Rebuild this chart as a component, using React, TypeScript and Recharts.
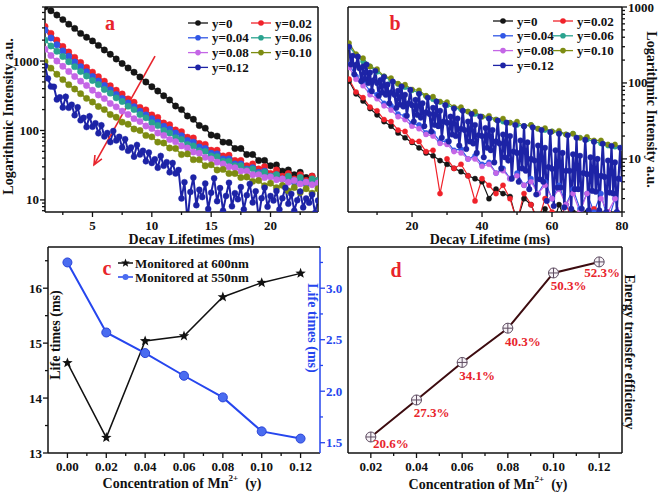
import React from "react";
import { LineChart, Line, XAxis, YAxis, Legend, ReferenceLine, LabelList } from "recharts";

const FONT = '"Liberation Serif", "Times New Roman", serif';
const INK = "#111";
const RED = "#e8242c";
const BLUE = "#2646ee";

// series names used by panels a and b
const yLabels = ["y=0", "y=0.02", "y=0.04", "y=0.06", "y=0.08", "y=0.10", "y=0.12"];
const yColors = ["#151515", "#f0222a", "#3157e6", "#2aa38f", "#c466e6", "#7d8c12", "#1d23a6"];

// (a) decay curves, time in ms, intensity a.u.
const aTime = [1, 1.5, 2, 2.5, 3, 3.5, 4, 4.5, 5, 5.5, 6, 6.5, 7, 7.5, 8, 8.5, 9, 9.5, 10, 10.5, 11, 11.5, 12, 12.5, 13, 13.5, 14, 14.5, 15, 15.5, 16, 16.5, 17, 17.5, 18, 18.5, 19, 19.5, 20, 20.5, 21, 21.5, 22, 22.5, 23, 23.5, 24];
const aTimeFine = [1, 1.25, 1.5, 1.75, 2, 2.25, 2.5, 2.75, 3, 3.25, 3.5, 3.75, 4, 4.25, 4.5, 4.75, 5, 5.25, 5.5, 5.75, 6, 6.25, 6.5, 6.75, 7, 7.25, 7.5, 7.75, 8, 8.25, 8.5, 8.75, 9, 9.25, 9.5, 9.75, 10, 10.25, 10.5, 10.75, 11, 11.25, 11.5, 11.75, 12, 12.25, 12.5, 12.75, 13, 13.25, 13.5, 13.75, 14, 14.25, 14.5, 14.75, 15, 15.25, 15.5, 15.75, 16, 16.25, 16.5, 16.75, 17, 17.25, 17.5, 17.75, 18, 18.25, 18.5, 18.75, 19, 19.25, 19.5, 19.75, 20, 20.25, 20.5, 20.75, 21, 21.25, 21.5, 21.75, 22, 22.25, 22.5, 22.75, 23, 23.25, 23.5, 23.75, 24];
const aY0 = [6000, 5300, 4600, 3950, 3400, 2950, 2500, 2200, 1950, 1680, 1445, 1250, 1070, 920, 794, 690, 590, 500, 427, 370, 316, 275, 225, 200, 162, 145, 118, 108, 86, 83, 68, 67, 55, 55, 45, 45, 37, 37, 31, 32, 26, 27, 23, 25, 21, 22, 19];
const aY02 = [3160, 2500, 2000, 1620, 1350, 1130, 955, 810, 692, 595, 513, 440, 380, 335, 285, 255, 215, 198, 168, 154, 128, 121, 102, 96, 80, 78, 65, 63, 52, 52, 43, 44, 37, 37, 31, 33, 28, 30, 24, 27, 22, 24, 20, 23, 19, 22, 18];
const aY04 = [2800, 2150, 1720, 1400, 1170, 970, 830, 700, 600, 515, 445, 385, 330, 290, 250, 220, 190, 168, 148, 132, 115, 104, 92, 84, 72, 68, 58, 55, 47, 46, 39, 39, 33, 33, 28, 29, 25, 26, 22, 23, 20, 21, 18, 20, 17, 19, 17];
const aY06 = [2000, 1650, 1380, 1160, 977, 830, 708, 610, 525, 460, 389, 345, 295, 262, 224, 200, 170, 152, 129, 118, 100, 92, 79, 74, 63, 60, 51, 50, 43, 42, 36, 36, 31, 31, 27, 28, 24, 25, 22, 23, 20, 22, 19, 21, 18, 20, 19];
const aY08 = [1480, 1200, 1000, 840, 708, 600, 513, 445, 380, 325, 288, 245, 219, 190, 170, 148, 135, 116, 107, 92, 85, 74, 69, 60, 56, 49, 47, 41, 39, 35, 33, 30, 29, 26, 26, 23, 23, 21, 21.5, 19.5, 20, 18, 19, 17, 18, 16.5, 17.5];
const aY10 = [977, 790, 646, 540, 457, 395, 339, 290, 257, 222, 200, 170, 155, 132, 123, 105, 100, 85, 81, 68, 66, 56, 55, 45, 46, 38, 38, 31, 32, 27, 27.5, 24, 24, 21, 21.4, 18.5, 19, 16, 17.4, 15, 16.2, 13.5, 15.1, 12.8, 14.5, 12.5, 14.5];
const aY12 = [850, 560, 430, 425, 280, 300, 215, 306, 212, 235, 166, 216, 140, 152, 112, 160, 113, 127, 91, 119, 82, 92, 68, 98, 72, 81, 57, 75, 51, 57, 42, 62, 45, 51, 36, 48, 34, 38.5, 29, 43, 31, 35, 25, 34, 24,
  27, 10.5, 18, 5, 13, 21, 8.4, 14, 11, 17.2, 7.4, 12.7, 20.5, 9.6, 14.8, 7, 11.4, 17.7, 8.1, 12.5, 10.2, 15.3, 7.3, 11.7, 17, 9.2, 13.3, 5.5, 10.6, 15, 8, 11.4, 9.8, 13.4, 7.3, 10.6, 15, 8.8, 12.2, 7, 9.9, 13.2, 7.8, 10.5, 9.1, 11.9, 6.5, 9.8];
const aXTicks = [2.5, 5, 7.5, 10, 12.5, 15, 17.5, 20, 22.5];
const aXMajor = [5, 10, 15, 20];
const aYTicks = [7, 8, 9, 10, 20, 30, 40, 50, 60, 70, 80, 90, 100, 200, 300, 400, 500, 600, 700, 800, 900, 1000, 2000, 3000, 4000, 5000, 6000];
const logMajor = [10, 100, 1000];

// (b) decay curves, time in ms
const bTime = [2, 4, 6, 8, 10, 12, 14, 16, 18, 20, 22, 24, 26, 28, 30, 32, 34, 36, 38, 40, 42, 44, 46, 48, 50, 52, 54, 56, 58, 60, 62, 64, 66, 68, 70, 72, 74, 76, 78, 80];
const bTimeHalf = [2, 2.5, 3, 3.5, 4, 4.5, 5, 5.5, 6, 6.5, 7, 7.5, 8, 8.5, 9, 9.5, 10, 10.5, 11, 11.5, 12, 12.5, 13, 13.5, 14, 14.5, 15, 15.5, 16, 16.5, 17, 17.5, 18, 18.5, 19, 19.5, 20, 20.5, 21, 21.5, 22, 22.5, 23, 23.5, 24, 24.5, 25, 25.5, 26, 26.5, 27, 27.5, 28, 28.5, 29, 29.5, 30, 30.5, 31, 31.5, 32, 32.5, 33, 33.5, 34, 34.5, 35, 35.5, 36, 36.5, 37, 37.5, 38, 38.5, 39, 39.5, 40, 40.5, 41, 41.5, 42, 42.5, 43, 43.5, 44, 44.5, 45, 45.5, 46, 46.5, 47, 47.5, 48, 48.5, 49, 49.5, 50, 50.5, 51, 51.5, 52, 52.5, 53, 53.5, 54, 54.5, 55, 55.5, 56, 56.5, 57, 57.5, 58, 58.5, 59, 59.5, 60, 60.5, 61, 61.5, 62, 62.5, 63, 63.5, 64, 64.5, 65, 65.5, 66, 66.5, 67, 67.5, 68, 68.5, 69, 69.5, 70, 70.5, 71, 71.5, 72, 72.5, 73, 73.5, 74, 74.5, 75, 75.5, 76, 76.5, 77, 77.5, 78, 78.5, 79, 79.5, 80];
const bY0 = [106, 72, 58, 46, 38, 31, 27, 22, 19, 16.5, 14, 12, 11, 9.5, 8.5, 7.5, 6.8, 6, 5.5, 5, 3, 4, 3.5, 3.2, 1.5, 3, 2.5, 1.5, 2.2, 1.2, 2.5, 1.5, 2, 1.2, 2, 1.5, 1.8, 1.2, 1.6, 1.3];
const bY02 = [112, 76, 64, 48, 43, 33, 31, 24, 23, 17, 17, 12.5, 13, 3.5, 10, 7.5, 8.5, 6, 2.8, 5.5, 4.5, 3.5, 4.5, 3, 1.5, 3.5, 2.5, 1.5, 3, 2, 1.5, 2.5, 1.5, 2, 1.2, 2.2, 1.5, 2, 1.2, 1.8];
const bY04 = [175, 122, 104, 78, 70, 54, 50, 39, 37, 29, 28, 22, 22, 17, 17, 13, 13.5, 10, 11, 8.5, 9, 6.5, 7.5, 5.5, 6.5, 4.5, 5.5, 3.5, 5, 3, 4.5, 2.5, 4, 2.2, 3.5, 2, 3.5, 1.5, 3, 1.5];
const bY06 = [300, 235, 192, 165, 140, 122, 108, 97, 88, 80, 74, 67, 61, 56, 51, 47, 45, 42, 39, 36, 34, 33, 31, 30, 28, 27, 28, 25, 24, 23, 22, 21, 21.5, 19, 18, 17, 16, 15, 14.5, 14];
const bY08 = [160, 112, 92, 70, 62, 50, 44, 36, 33, 27, 25, 21, 20, 16, 15.5, 12.5, 12, 10, 10, 8, 8.5, 6.5, 7, 5.5, 6, 4.5, 5, 3.5, 4.5, 3, 4, 2.5, 3.5, 2, 3.5, 1.5, 3, 2, 3, 1.5];
const bY10 = [335, 240, 212, 165, 152, 122, 116, 98, 95, 82, 80, 68, 66, 57, 56, 48, 48, 42, 42, 36, 37, 33, 34, 30, 31, 27, 28, 25, 25.5, 23, 23.5, 21, 21.5, 19, 19.5, 17.5, 17.5, 15.5, 15.5, 14];
const bY12 = [300, 175, 228, 130, 173, 222, 156, 105, 165, 113,
  175, 100, 137, 78, 108, 144, 100, 68, 109, 75,
  120, 70, 95, 54, 75, 104, 70, 47, 79, 52,
  90, 49, 70, 37, 54, 81, 51, 31, 60, 38,
  72, 35, 54, 27, 41, 64, 39, 23, 47, 28,
  57, 27, 43, 19, 31, 51, 30, 17, 36, 21,
  46, 20, 34, 15, 25, 43, 24, 13.5, 31, 17,
  39, 16, 28, 12, 20.5, 36, 20, 10.5, 25.5, 14,
  34, 13, 24, 9, 17, 32, 16, 7.5, 21, 10.5,
  30, 9.5, 20, 5.5, 12.5, 28, 12, 5, 17.5, 7.5,
  27, 7, 16.5, 4, 10, 26, 9.5, 3.4, 15, 5.4,
  24, 5, 14, 2.8, 7.8, 22.5, 7.4, 2.4, 13, 4.2,
  21.5, 4.2, 12, 2.3, 7, 20.5, 7, 2.2, 11.5, 4,
  19, 4, 11, 2.2, 6.5, 17.8, 6.3, 2.1, 10.5, 3.8,
  16.8, 3.7, 10, 2.1, 6, 15.8, 5.8, 2, 9.5, 3.6,
  14.8, 3.5, 9, 2, 5.5, 14, 5.4];
const bXTicks = [10, 20, 30, 40, 50, 60, 70, 80];
const bXMajor = [20, 40, 60, 80];
const bYTicks = [2, 3, 4, 5, 6, 7, 8, 9, 10, 20, 30, 40, 50, 60, 70, 80, 90, 100, 200, 300, 400, 500, 600, 700, 800, 900, 1000];

// (c) lifetimes vs Mn2+ concentration
const conc = [0, 0.02, 0.04, 0.06, 0.08, 0.1, 0.12];
const life600 = [14.64, 13.28, 15.04, 15.13, 15.84, 16.1, 16.27];
const life550 = [3.25, 2.57, 2.37, 2.15, 1.94, 1.61, 1.54];
const cXTicks = [0, 0.01, 0.02, 0.03, 0.04, 0.05, 0.06, 0.07, 0.08, 0.09, 0.1, 0.11, 0.12];
const cXMajor = [0, 0.02, 0.04, 0.06, 0.08, 0.1, 0.12];
const cLTicks = [13, 13.5, 14, 14.5, 15, 15.5, 16, 16.5];
const cLMajor = [13, 14, 15, 16];
const cRTicks = [1.5, 1.75, 2, 2.25, 2.5, 2.75, 3, 3.25];
const cRMajor = [1.5, 2, 2.5, 3];

// (d) energy transfer efficiency (%)
const concD = [0.02, 0.04, 0.06, 0.08, 0.1, 0.12];
const efficiency = [20.6, 27.3, 34.1, 40.3, 50.3, 52.3];
const dXTicks = [0.02, 0.03, 0.04, 0.05, 0.06, 0.07, 0.08, 0.09, 0.1, 0.11, 0.12];
const dXMajor = [0.02, 0.04, 0.06, 0.08, 0.1, 0.12];

const pts = (xs: number[], vs: number[]) => xs.map((t, i) => ({ t, v: vs[i] }));
const aSeries = [
  pts(aTime, aY0),
  pts(aTime, aY02),
  pts(aTime, aY04),
  pts(aTime, aY06),
  pts(aTime, aY08),
  pts(aTime, aY10),
  pts(aTimeFine, aY12),
];
const bSeries = [
  pts(bTime, bY0),
  pts(bTime, bY02),
  pts(bTime, bY04),
  pts(bTime, bY06),
  pts(bTime, bY08),
  pts(bTime, bY10),
  pts(bTimeHalf, bY12),
];
const cData = conc.map((c, i) => ({ c, l600: life600[i], l550: life550[i] }));
const dData = concD.map((c, i) => ({ c, e: efficiency[i] }));

const tickText = { fontFamily: FONT, fontWeight: 700, fontSize: 13 };
const titleText = { fontFamily: FONT, fontWeight: 700, fontSize: 14 };
const frameLine = { stroke: INK, strokeWidth: 1.5 };

const isIn = (list: number[], v: number) => list.some((m) => Math.abs(m - v) < 1e-9);

function axisTick(side: "bottom" | "left" | "right", majors: number[], fmt: (v: number) => string, color = INK) {
  return (p: any) => {
    const { x, y } = p;
    const v = p.payload.value;
    const major = isIn(majors, v);
    const len = major ? 5 : 3;
    if (side === "bottom") {
      return (
        <g>
          <line x1={x} x2={x} y1={y} y2={y + len} stroke={color} strokeWidth={1.3} />
          {major && (
            <text x={x} y={y + 13} textAnchor="middle" dominantBaseline="central" fill={color} style={tickText}>
              {fmt(v)}
            </text>
          )}
        </g>
      );
    }
    const s = side === "left" ? -1 : 1;
    return (
      <g>
        <line x1={x} x2={x + s * len} y1={y} y2={y} stroke={color} strokeWidth={1.3} />
        {major && (
          <text x={x + s * 6} y={y} textAnchor={side === "left" ? "end" : "start"} dominantBaseline="central" fill={color} style={tickText}>
            {fmt(v)}
          </text>
        )}
      </g>
    );
  };
}

const xTitle = (content: React.ReactNode, dx: number, dy: number) => (p: any) => {
  const vb = p.viewBox;
  return (
    <text x={vb.x + vb.width / 2 + dx} y={vb.y + dy} textAnchor="middle" dominantBaseline="central" fill={INK} style={titleText}>
      {content}
    </text>
  );
};

const yTitle = (text: string, dx: number, dy: number, angle: number, color = INK) => (p: any) => {
  const vb = p.viewBox;
  const cx = vb.x + dx;
  const cy = vb.y + vb.height / 2 + dy;
  return (
    <text x={cx} y={cy} transform={`rotate(${angle} ${cx} ${cy})`} textAnchor="middle" dominantBaseline="central" fill={color} style={titleText}>
      {text}
    </text>
  );
};

const mnTitle = (
  <>
    <tspan>Concentration of Mn</tspan>
    <tspan fontSize={9} dy={-5}>2+</tspan>
    <tspan dy={5}>{"\u00a0 (y)"}</tspan>
  </>
);

const frameTop = () => (
  <XAxis xAxisId="top" orientation="top" mirror type="number" domain={[0, 1]} tick={false} tickLine={false} axisLine={frameLine} />
);
const frameRight = () => (
  <YAxis yAxisId="frame" orientation="right" mirror type="number" domain={[0, 1]} tick={false} tickLine={false} axisLine={frameLine} />
);

const arrowShape = (p: any) => {
  const { x1, y1, x2, y2 } = p;
  const a = Math.atan2(y2 - y1, x2 - x1);
  const L = 9;
  const W = 4;
  const bx = x2 - L * Math.cos(a);
  const by = y2 - L * Math.sin(a);
  return (
    <g>
      <line x1={x1} y1={y1} x2={x2} y2={y2} stroke={RED} strokeWidth={1.6} />
      <polyline
        points={`${bx + W * Math.sin(a)},${by - W * Math.cos(a)} ${x2},${y2} ${bx - W * Math.sin(a)},${by + W * Math.cos(a)}`}
        fill="none"
        stroke={RED}
        strokeWidth={1.6}
      />
    </g>
  );
};

const starPath = (cx: number, cy: number, R = 5.5, r = 2.3) => {
  let d = "";
  for (let k = 0; k < 10; k++) {
    const rad = k % 2 === 0 ? R : r;
    const a = -Math.PI / 2 + (k * Math.PI) / 5;
    d += `${k === 0 ? "M" : "L"}${cx + rad * Math.cos(a)},${cy + rad * Math.sin(a)}`;
  }
  return d + "Z";
};

const starDot = (p: any) => <path key={`s${p.index}`} d={starPath(p.cx, p.cy)} fill={INK} />;

const crossDot = (p: any) => (
  <g key={`d${p.index}`}>
    <circle cx={p.cx} cy={p.cy} r={5} fill="#f6f2f6" stroke="#5d4b60" strokeWidth={1} />
    <line x1={p.cx - 5} x2={p.cx + 5} y1={p.cy} y2={p.cy} stroke="#5d4b60" strokeWidth={1} />
    <line x1={p.cx} x2={p.cx} y1={p.cy - 5} y2={p.cy + 5} stroke="#5d4b60" strokeWidth={1} />
  </g>
);

const pctLabel = (p: any) => {
  const x = p.x ?? p.viewBox?.x;
  const y = p.y ?? p.viewBox?.y;
  const last = p.index === efficiency.length - 1;
  const dx = last ? 3 : p.index === 0 ? 20 : 15;
  const dy = p.index === 0 ? 7 : last ? 11 : 13;
  return (
    <text key={`l${p.index}`} x={x + dx} y={y + dy} textAnchor="middle" dominantBaseline="central" fill={RED} style={tickText}>
      {`${p.value}%`}
    </text>
  );
};

function SeriesLegend({ col2 }: { col2: number }) {
  return (
    <svg width={150} height={62} style={{ display: "block", overflow: "visible" }}>
      {yLabels.map((name, i) => {
        const x0 = i % 2 === 0 ? 3 : col2;
        const y = 8 + Math.floor(i / 2) * 14.8;
        return (
          <g key={name}>
            <line x1={x0} x2={x0 + 20} y1={y} y2={y} stroke={yColors[i]} strokeWidth={1.3} />
            <circle cx={x0 + 10} cy={y} r={2.8} fill={yColors[i]} />
            <text x={x0 + 24} y={y} dominantBaseline="central" fill={INK} style={tickText}>
              {name}
            </text>
          </g>
        );
      })}
    </svg>
  );
}

function LifeLegend() {
  return (
    <svg width={140} height={32} style={{ display: "block", overflow: "visible" }}>
      <line x1={3} x2={18} y1={8} y2={8} stroke={INK} strokeWidth={1.5} />
      <path d={starPath(10.5, 8, 4.5, 1.9)} fill={INK} />
      <text x={20} y={8} dominantBaseline="central" fill={INK} style={tickText}>Monitored at 600nm</text>
      <line x1={3} x2={18} y1={22} y2={22} stroke={BLUE} strokeWidth={1.5} />
      <circle cx={10.5} cy={22} r={3} fill="#4a6cf0" />
      <text x={20} y={22} dominantBaseline="central" fill={INK} style={tickText}>Monitored at 550nm</text>
    </svg>
  );
}

const box = (left: number, top: number): React.CSSProperties => ({ position: "absolute", left, top });

export default function App() {
  return (
    <div style={{ position: "fixed", left: 0, top: 0, width: 661, height: 494, background: "#fff", overflow: "hidden" }}>
      {/* (a) */}
      <div style={box(0, 0)}>
        <LineChart width={330} height={245} margin={{ top: 7, right: 12, bottom: 0, left: 0 }}>
          <XAxis dataKey="t" type="number" domain={[1, 24]} allowDataOverflow ticks={aXTicks} interval={0}
            tickSize={0} tickMargin={0} tickLine={false} tick={axisTick("bottom", aXMajor, String)} height={33}
            axisLine={frameLine} label={xTitle("Decay Lifetimes (ms)", 10, 27)} />
          <YAxis type="number" scale="log" domain={[6.7, 6000]} allowDataOverflow ticks={aYTicks} interval={0}
            tickSize={0} tickMargin={0} tickLine={false} tick={axisTick("left", logMajor, String)} width={45}
            axisLine={frameLine} label={yTitle("Logarithmic Intensity a.u.", 8, 7, -90)} />
          {frameTop()}
          {frameRight()}
          {aSeries.map((s, i) => (
            <Line key={yLabels[i]} data={s} dataKey="v" stroke={yColors[i]} strokeWidth={i === 6 ? 2 : 1.3}
              dot={{ r: i === 6 ? 3 : 3.2, fill: yColors[i], stroke: yColors[i], strokeWidth: 0.4 }} activeDot={false}
              isAnimationActive={false} />
          ))}
          <ReferenceLine segment={[{ x: 10.27, y: 1180 }, { x: 5.13, y: 32 }]} stroke={RED} shape={arrowShape} />
          <Legend layout="vertical" align="center" verticalAlign="middle"
            wrapperStyle={{ left: 185, top: 15, width: 150, height: 62 }} content={() => <SeriesLegend col2={66} />} />
        </LineChart>
      </div>

      {/* (b) */}
      <div style={box(330, 0)}>
        <LineChart width={331} height={245} margin={{ top: 7, right: 0, bottom: 0, left: 0 }}>
          <XAxis dataKey="t" type="number" domain={[1.7, 80]} allowDataOverflow ticks={bXTicks} interval={0}
            tickSize={0} tickMargin={0} tickLine={false} tick={axisTick("bottom", bXMajor, String)} height={33}
            axisLine={frameLine} label={xTitle("Decay Lifetime (ms)", 5, 27)} />
          <YAxis orientation="right" type="number" scale="log" domain={[2, 1000]} allowDataOverflow ticks={bYTicks}
            interval={0} tickSize={0} tickMargin={0} tickLine={false} tick={axisTick("right", logMajor, String)}
            width={39} axisLine={frameLine} label={yTitle("Logarithmic Intensity a.u.", 29, 0, 90)} />
          <YAxis yAxisId="L" orientation="left" type="number" domain={[0, 1]} tick={false} tickLine={false}
            width={18} axisLine={frameLine} />
          {frameTop()}
          {bSeries.map((s, i) => (
            <Line key={yLabels[i]} data={s} dataKey="v" stroke={yColors[i]} strokeWidth={i === 6 ? 2.2 : 1.2}
              dot={{ r: i === 6 ? 2.8 : 2.6, fill: yColors[i], stroke: yColors[i], strokeWidth: 0.4 }} activeDot={false}
              isAnimationActive={false} />
          ))}
          <Legend layout="vertical" align="center" verticalAlign="middle"
            wrapperStyle={{ left: 160, top: 13, width: 150, height: 62 }} content={() => <SeriesLegend col2={63} />} />
        </LineChart>
      </div>

      {/* (c) */}
      <div style={box(0, 240)}>
        <LineChart width={360} height={254} data={cData} margin={{ top: 7, right: 0, bottom: 0, left: 0 }}>
          <XAxis dataKey="c" type="number" domain={[-0.01, 0.13]} allowDataOverflow ticks={cXTicks} interval={0}
            tickSize={0} tickMargin={0} tickLine={false} tick={axisTick("bottom", cXMajor, (v) => v.toFixed(2))}
            height={41} axisLine={frameLine} label={xTitle(mnTitle, -2, 30)} />
          <YAxis yAxisId="L" type="number" domain={[13, 16.75]} allowDataOverflow ticks={cLTicks} interval={0}
            tickSize={0} tickMargin={0} tickLine={false} tick={axisTick("left", cLMajor, String)} width={48}
            axisLine={frameLine} label={yTitle("Life times (ms)", 55, -15, -90)} />
          <YAxis yAxisId="R" orientation="right" type="number" domain={[1.4, 3.4]} allowDataOverflow ticks={cRTicks}
            interval={0} tickSize={0} tickMargin={0} tickLine={false}
            tick={axisTick("right", cRMajor, (v) => v.toFixed(1), BLUE)} width={40}
            axisLine={{ stroke: BLUE, strokeWidth: 1.5 }} label={yTitle("Life times (ms)", -8, -22, 90, BLUE)} />
          {frameTop()}
          <Line yAxisId="L" dataKey="l600" stroke={INK} strokeWidth={1.5} dot={starDot} activeDot={false}
            isAnimationActive={false} />
          <Line yAxisId="R" dataKey="l550" stroke={BLUE} strokeWidth={2}
            dot={{ r: 4.5, fill: "#4a6cf0", stroke: "#2a44d8", strokeWidth: 1 }} activeDot={false}
            isAnimationActive={false} />
          <Legend layout="vertical" align="center" verticalAlign="middle"
            wrapperStyle={{ left: 115, top: 15, width: 140, height: 32 }} content={() => <LifeLegend />} />
        </LineChart>
      </div>

      {/* (d) */}
      <div style={box(330, 240)}>
        <LineChart width={331} height={254} data={dData} margin={{ top: 7, right: 0, bottom: 0, left: 0 }}>
          <XAxis dataKey="c" type="number" domain={[0.01, 0.13]} allowDataOverflow ticks={dXTicks} interval={0}
            tickSize={0} tickMargin={0} tickLine={false} tick={axisTick("bottom", dXMajor, (v) => v.toFixed(2))}
            height={41} axisLine={frameLine} label={xTitle(mnTitle, 3, 31)} />
          <YAxis type="number" domain={[17.7, 55]} allowDataOverflow tick={false} tickLine={false} width={18}
            axisLine={frameLine} />
          <YAxis yAxisId="R" orientation="right" type="number" domain={[0, 1]} tick={false} tickLine={false}
            width={39} axisLine={frameLine} label={yTitle("Energy transfer efficiency", 7, 2, 90)} />
          {frameTop()}
          <Line dataKey="e" stroke="#3d0c10" strokeWidth={2} dot={crossDot} activeDot={false}
            isAnimationActive={false}>
            <LabelList dataKey="e" content={pctLabel} />
          </Line>
        </LineChart>
      </div>

      {/* panel tags */}
      <svg width={661} height={494} style={{ position: "absolute", left: 0, top: 0, pointerEvents: "none" }}>
        <g fill={RED} style={{ fontFamily: FONT, fontWeight: 700, fontSize: 20 }} textAnchor="middle">
          <text x={110} y={30}>a</text>
          <text x={395} y={30}>b</text>
          <text x={107} y={275}>c</text>
          <text x={396} y={277}>d</text>
        </g>
      </svg>
    </div>
  );
}
